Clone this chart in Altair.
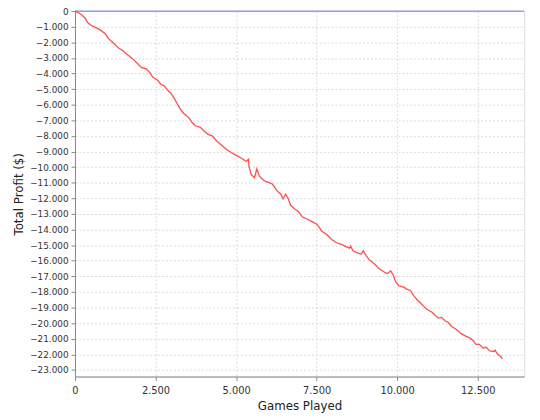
import altair as alt
import pandas as pd

games = [0, 122, 223, 327, 397, 480, 633, 785, 938, 1039, 1192, 1345, 1497, 1650, 1803, 1956,
         2057, 2209, 2313, 2414, 2567, 2668, 2772, 2873, 2974, 3077, 3178, 3279, 3383, 3536,
         3637, 3737, 3890, 3994, 4147, 4248, 4401, 4553, 4706, 4859, 5012, 5165, 5317, 5388,
         5400, 5470, 5571, 5644, 5724, 5828, 5929, 6030, 6133, 6234, 6317, 6387, 6457, 6540,
         6622, 6693, 6845, 6946, 7050, 7203, 7356, 7509, 7558, 7662, 7814, 7967, 8120, 8273,
         8425, 8526, 8557, 8627, 8780, 8884, 8945, 9036, 9137, 9290, 9443, 9596, 9697, 9801,
         9880, 9953, 10054, 10207, 10290, 10412, 10513, 10614, 10718, 10818, 10919, 11072,
         11176, 11277, 11378, 11482, 11582, 11683, 11836, 11989, 12142, 12246, 12346, 12447,
         12551, 12673, 12753, 12875, 13009, 13040, 13110, 13181, 13263]
profit = [0, -125, -269, -481, -750, -893, -1043, -1205, -1455, -1768, -2042, -2355, -2561,
          -2829, -3079, -3392, -3604, -3704, -3916, -4228, -4435, -4703, -4791, -5059, -5265,
          -5578, -5952, -6308, -6577, -6827, -7139, -7351, -7451, -7664, -7914, -7976, -8326,
          -8601, -8869, -9075, -9250, -9431, -9638, -9494, -9950, -10474, -10681, -10119,
          -10575, -10787, -10931, -10993, -11099, -11411, -11618, -11724, -12036, -11724,
          -12036, -12448, -12723, -12867, -13179, -13322, -13491, -13660, -13804, -14116,
          -14322, -14634, -14847, -14947, -15115, -15197, -15053, -15365, -15509, -15571,
          -15365, -15677, -15946, -16196, -16508, -16721, -16821, -16658, -16927, -17345,
          -17614, -17695, -17820, -17907, -18238, -18488, -18694, -18907, -19113, -19282,
          -19488, -19675, -19631, -19844, -19944, -20193, -20406, -20674, -20843, -20943,
          -21093, -21361, -21361, -21611, -21530, -21780, -21817, -21736, -21986, -22067,
          -22280]

x_ticks = [0, 2500, 5000, 7500, 10000, 12500]
y_ticks = list(range(0, -24000, -1000))

df = pd.DataFrame({"games": games, "profit": profit})

FONT = "DejaVu Sans"
label_expr = "replace(format(datum.value, ',d'), ',', '.')"

x_enc = alt.X("games:Q", title="Games Played",
              scale=alt.Scale(domain=[0, 13940], nice=False, zero=False),
              axis=alt.Axis(values=x_ticks, tickCount=20, labelExpr=label_expr, grid=True,
                            gridDash=[2, 2], gridColor="#d8d8d8", domainColor="#888888",
                            tickColor="#888888", tickSize=4, labelFont=FONT, labelFontSize=10,
                            labelColor="#333333", titleFont=FONT, titleFontSize=12,
                            titleFontWeight="normal", titleColor="#222222", labelPadding=5,
                            titlePadding=5, labelOverlap=False, labelFlush=False))
y_enc = alt.Y("profit:Q", title="Total Profit ($)",
              scale=alt.Scale(domain=[-23420, 0], nice=False, zero=False),
              axis=alt.Axis(values=y_ticks, tickCount=40, labelExpr=label_expr, grid=True,
                            gridDash=[2, 2], gridColor="#d8d8d8", domainColor="#888888",
                            tickColor="#888888", tickSize=4, labelFont=FONT, labelFontSize=9,
                            labelColor="#333333", titleFont=FONT, titleFontSize=12,
                            titleFontWeight="normal", titleColor="#222222", labelPadding=3,
                            titlePadding=4, labelOverlap=False, labelFlush=False))

line = alt.Chart(df).mark_line(color="#ff4c4c", strokeWidth=1.3, interpolate="linear").encode(
    x=x_enc, y=y_enc)

zero = alt.Chart(pd.DataFrame({"z": [0]})).mark_rule(color="#7878b8", strokeWidth=1).encode(
    y=alt.Y("z:Q", scale=alt.Scale(domain=[-23420, 0], nice=False, zero=False)))

chart = alt.layer(zero, line).properties(
    width=456, height=371,
    autosize=alt.AutoSizeParams(type="none"),
    padding={"left": 68, "top": 0, "right": 8, "bottom": 41},
).configure_view(stroke="#888888", strokeWidth=1).configure(background="white")

chart.save("out.html", embed_options={"renderer": "svg", "actions": False})
